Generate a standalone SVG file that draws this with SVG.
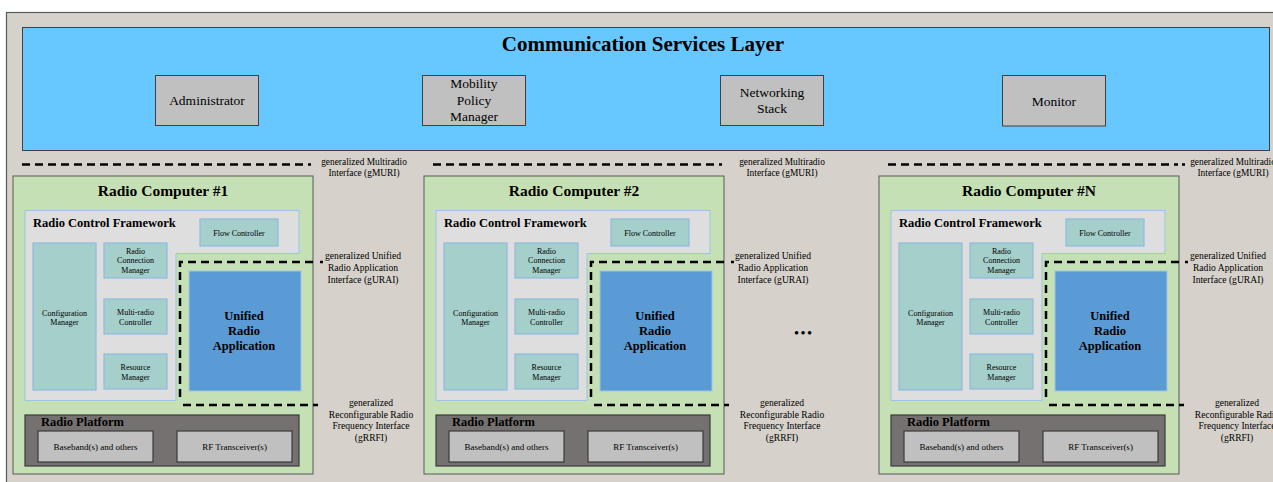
<svg xmlns="http://www.w3.org/2000/svg" width="1273" height="482" viewBox="0 0 1273 482">
<defs>
<style>
text{font-family:"Liberation Serif","Times New Roman",serif;fill:#000}
.bg{fill:#d6d2cb;stroke:#595959;stroke-width:1.2}
.csl{fill:#66c8fe;stroke:#404040;stroke-width:1}
.svc{fill:#c0c0c0;stroke:#404040;stroke-width:1}
.svct{font-size:13.5px;text-anchor:middle}
.rc{fill:#c5e0b4;stroke:#595959;stroke-width:1}
.rct{font-size:15.5px;font-weight:bold;text-anchor:middle}
.rcf{fill:#dedede;stroke:#9dc3e6;stroke-width:1}
.hd{font-size:12.5px;font-weight:bold}
.tl{fill:#a5cfca;stroke:#8fb9e0;stroke-width:1.2}
.sm{font-size:8px;text-anchor:middle}
.ura{fill:#5b9bd5;stroke:#9dc3e6;stroke-width:1}
.urat{font-size:12.5px;font-weight:bold;text-anchor:middle}
.rp{fill:#767171;stroke:#3a3a3a;stroke-width:1.2}
.hw{fill:#c0c0c0;stroke:#3a3a3a;stroke-width:1.2}
.hwt{font-size:9px;text-anchor:middle}
.ifm{font-size:9.4px;text-anchor:middle}
.if{font-size:9.6px;text-anchor:middle}
.dash{fill:none;stroke:#000;stroke-width:2.5;stroke-dasharray:8 5}
.dot{fill:none;stroke:#000;stroke-width:2.5}
</style>
<g id="rcTemplate">
<rect class="rc" x="13" y="176" width="300" height="298"/>
<path class="rcf" d="M25,210.5 H299 V253.5 H176 V400.5 H25 Z"/>
<text class="hd" x="33" y="227">Radio Control Framework</text>
<rect class="tl" x="200" y="219" width="78" height="27"/>
<text class="sm" x="239" y="236">Flow Controller</text>
<rect class="tl" x="33" y="243" width="63" height="147"/>
<text class="sm" x="64.5" y="316">Configuration</text>
<text class="sm" x="64.5" y="325">Manager</text>
<rect class="tl" x="104" y="243" width="63" height="35"/>
<text class="sm" x="135.5" y="253.5">Radio</text>
<text class="sm" x="135.5" y="263">Connection</text>
<text class="sm" x="135.5" y="272.5">Manager</text>
<rect class="tl" x="104" y="299" width="63" height="35"/>
<text class="sm" x="135.5" y="315">Multi-radio</text>
<text class="sm" x="135.5" y="324.5">Controller</text>
<rect class="tl" x="104" y="354" width="63" height="35"/>
<text class="sm" x="135.5" y="370">Resource</text>
<text class="sm" x="135.5" y="379.5">Manager</text>
<rect class="ura" x="189" y="271" width="112" height="120"/>
<text class="urat" x="244" y="320">Unified</text>
<text class="urat" x="244" y="334.5">Radio</text>
<text class="urat" x="244" y="349.5">Application</text>
<rect class="rp" x="25" y="415" width="274" height="51"/>
<text class="hd" x="41" y="426">Radio Platform</text>
<rect class="hw" x="38" y="431" width="115" height="31"/>
<text class="hwt" x="95.5" y="450">Baseband(s) and others</text>
<rect class="hw" x="177" y="431" width="115" height="31"/>
<text class="hwt" x="234.5" y="450">RF Transceiver(s)</text>
</g>
</defs>
<rect x="0" y="0" width="1273" height="482" fill="#ffffff"/>
<rect id="background" class="bg" x="6.5" y="12.5" width="1290" height="490"/>
<g id="communication-services-layer">
<rect class="csl" x="22.5" y="27.5" width="1247" height="123"/>
<text x="643" y="51" font-size="21" font-weight="bold" text-anchor="middle">Communication Services Layer</text>
</g>
<g id="administrator">
<rect class="svc" x="155.5" y="75.5" width="103" height="50"/>
<text class="svct" x="207" y="105">Administrator</text>
</g>
<g id="mobility-policy-manager">
<rect class="svc" x="422.5" y="75.5" width="103" height="50"/>
<text class="svct" x="474" y="88">Mobility</text>
<text class="svct" x="474" y="104.5">Policy</text>
<text class="svct" x="474" y="121">Manager</text>
</g>
<g id="networking-stack">
<rect class="svc" x="720.5" y="75.5" width="103" height="50"/>
<text class="svct" x="772" y="96.5">Networking</text>
<text class="svct" x="772" y="113">Stack</text>
</g>
<g id="monitor">
<rect class="svc" x="1002.5" y="75.5" width="103" height="50.5"/>
<text class="svct" x="1054" y="106">Monitor</text>
</g>
<g id="radio-computer-1">
<use href="#rcTemplate"/>
<text class="rct" x="163" y="196">Radio Computer #1</text>
</g>
<g id="radio-computer-2" transform="translate(411,0)">
<use href="#rcTemplate"/>
<text class="rct" x="163" y="196">Radio Computer #2</text>
</g>
<g id="radio-computer-n" transform="translate(866,0)">
<use href="#rcTemplate"/>
<text class="rct" x="163" y="196">Radio Computer #N</text>
</g>
<text id="ellipsis" x="804" y="337" font-size="13" font-weight="bold" text-anchor="middle" letter-spacing="2">•••</text>
<g id="connectors">
<line class="dash" x1="22" y1="164.5" x2="311" y2="164.5"/>
<line class="dash" x1="433" y1="164.5" x2="722" y2="164.5"/>
<line class="dash" x1="888" y1="164.5" x2="1178" y2="164.5"/>
<line class="dot" x1="1182" y1="164.5" x2="1185" y2="164.5"/>
<path class="dash" d="M180,397 V262 H313"/>
<line class="dot" x1="320" y1="262" x2="323" y2="262"/>
<line class="dash" x1="183" y1="405" x2="318" y2="405"/>
<path class="dash" d="M591,397 V262 H724"/>
<line class="dot" x1="731" y1="262" x2="734" y2="262"/>
<line class="dash" x1="594" y1="405" x2="729" y2="405"/>
<path class="dash" d="M1046,397 V262 H1179"/>
<line class="dot" x1="1185" y1="262" x2="1188" y2="262"/>
<line class="dash" x1="1049" y1="405" x2="1184" y2="405"/>
<text class="ifm" x="364" y="164.5">generalized Multiradio</text>
<text class="ifm" x="364" y="175.5">Interface (gMURI)</text>
<text class="ifm" x="782" y="164.5">generalized Multiradio</text>
<text class="ifm" x="782" y="175.5">Interface (gMURI)</text>
<text class="ifm" x="1233" y="164.5">generalized Multiradio</text>
<text class="ifm" x="1233" y="175.5">Interface (gMURI)</text>
<text class="if" x="363" y="258.5">generalized Unified</text>
<text class="if" x="363" y="270.5">Radio Application</text>
<text class="if" x="363" y="282.5">Interface (gURAI)</text>
<text class="if" x="773" y="258.5">generalized Unified</text>
<text class="if" x="773" y="270.5">Radio Application</text>
<text class="if" x="773" y="282.5">Interface (gURAI)</text>
<text class="if" x="1228" y="258.5">generalized Unified</text>
<text class="if" x="1228" y="270.5">Radio Application</text>
<text class="if" x="1228" y="282.5">Interface (gURAI)</text>
<text class="if" x="371" y="405.5">generalized</text>
<text class="if" x="371" y="417.5">Reconfigurable Radio</text>
<text class="if" x="371" y="428.5">Frequency Interface</text>
<text class="if" x="371" y="440.5">(gRRFI)</text>
<text class="if" x="782" y="405.5">generalized</text>
<text class="if" x="782" y="417.5">Reconfigurable Radio</text>
<text class="if" x="782" y="428.5">Frequency Interface</text>
<text class="if" x="782" y="440.5">(gRRFI)</text>
<text class="if" x="1237" y="405.5">generalized</text>
<text class="if" x="1237" y="417.5">Reconfigurable Radio</text>
<text class="if" x="1237" y="428.5">Frequency Interface</text>
<text class="if" x="1237" y="440.5">(gRRFI)</text>
</g>
</svg>
